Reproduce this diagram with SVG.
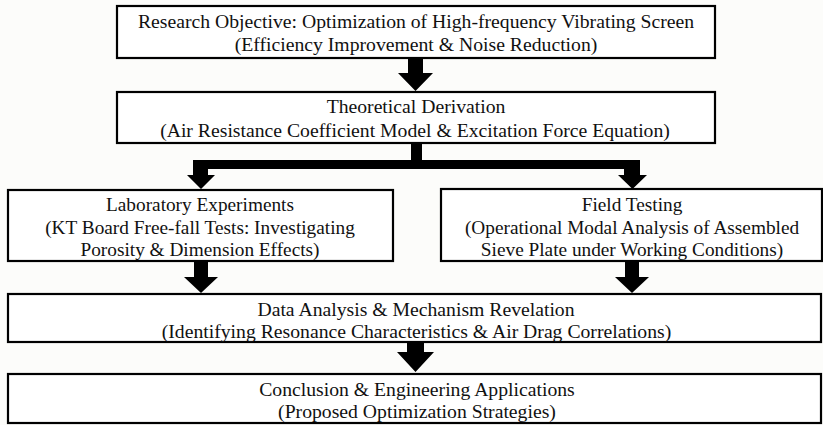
<svg xmlns="http://www.w3.org/2000/svg" width="823" height="425" viewBox="0 0 823 425">
<style>
.box{fill:#fff;stroke:#000;stroke-width:2.2}
.t{font-family:"Liberation Serif","Times New Roman",serif;font-size:19.7px;fill:#111;text-anchor:middle}
.s{font-size:19.3px}
.arr{fill:#000;stroke:none}
</style>
<rect width="823" height="425" fill="#fcfcfa"/>
<g id="connectors">
<polygon class="arr" points="408,58 423,58 423,73 433,73 415.5,91 398,73 408,73"/>
<polygon class="arr" points="411,143 422,143 422,160 640,160 640,175 647,175 632.5,189 618,175 624,175 624,169 208,169 208,175 215,175 201,189 187,175 193,175 193,160 411,160"/>
<polygon class="arr" points="194,261 208,261 208,277 218,277 201,293 184,277 194,277"/>
<polygon class="arr" points="625,261 639,261 639,277 649,277 632,293 615,277 625,277"/>
<polygon class="arr" points="407,342 424,342 424,352 434,352 415.5,372 397,352 407,352"/>
</g>
<g id="objective">
<rect class="box" x="117" y="6" width="598" height="52"/>
<text class="t" x="416" y="27.5">Research Objective: Optimization of High-frequency Vibrating Screen</text>
<text class="t" x="416" y="51">(Efficiency Improvement &amp; Noise Reduction)</text>
</g>
<g id="theory">
<rect class="box" x="117" y="92" width="598" height="51"/>
<text class="t" x="416" y="113">Theoretical Derivation</text>
<text class="t" x="415" y="136.5">(Air Resistance Coefficient Model &amp; Excitation Force Equation)</text>
</g>
<g id="lab">
<rect class="box" x="8" y="190" width="385" height="71"/>
<text class="t s" x="200" y="210.5">Laboratory Experiments</text>
<text class="t s" x="200" y="233.5">(KT Board Free-fall Tests: Investigating</text>
<text class="t s" x="200" y="256">Porosity &amp; Dimension Effects)</text>
</g>
<g id="field">
<rect class="box" x="441" y="189" width="381" height="72"/>
<text class="t s" x="632" y="210.5">Field Testing</text>
<text class="t s" x="632" y="233.5">(Operational Modal Analysis of Assembled</text>
<text class="t s" x="632" y="256">Sieve Plate under Working Conditions)</text>
</g>
<g id="analysis">
<rect class="box" x="8" y="294" width="813" height="48"/>
<text class="t" x="416" y="315.5">Data Analysis &amp; Mechanism Revelation</text>
<text class="t" x="416.5" y="338">(Identifying Resonance Characteristics &amp; Air Drag Correlations)</text>
</g>
<g id="conclusion">
<rect class="box" x="8" y="374" width="813" height="49"/>
<text class="t" x="417" y="395.5">Conclusion &amp; Engineering Applications</text>
<text class="t" x="417" y="417.5">(Proposed Optimization Strategies)</text>
</g>
</svg>
